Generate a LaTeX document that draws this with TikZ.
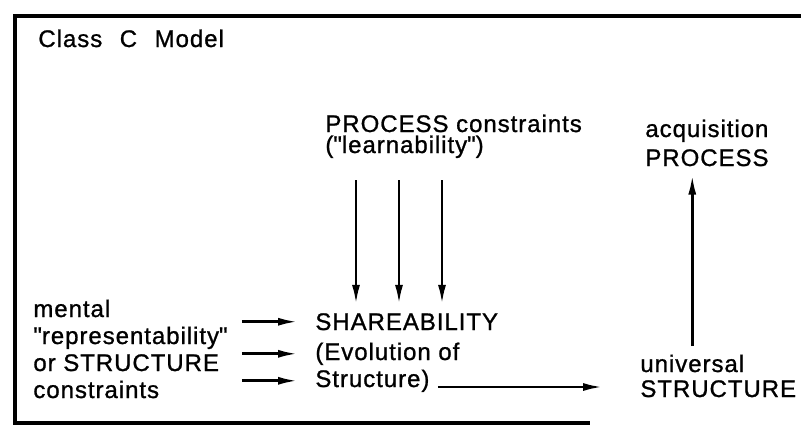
\documentclass[tikz,border=0pt]{standalone}
\usepackage{fontspec}
\setmainfont{Liberation Sans}[LetterSpace=4,FakeBold=1]
\newfontfamily\headfont{Liberation Sans}[LetterSpace=4,WordSpace=2.3,FakeBold=1]
\usetikzlibrary{arrows.meta,positioning}
\newcommand{\qq}{\textquotedbl}

\begin{document}
\begin{tikzpicture}[
    x=0.5pt, y=-0.5pt,
    txt/.style={anchor=base west, align=left, inner sep=4pt, font=\fontsize{12}{14}\selectfont},
    arr/.style={-{Latex[length=10pt,width=4pt]}, line width=1.4pt},
    frame/.style={line width=1.8pt},
]
    \useasboundingbox (0,0) rectangle (801,430);

    % open frame (runs off the right edge)
    \draw[frame] (801,16) -- (15,16) -- (15,423) -- (590,423);

    % Title
    \node[txt] (ttl) at (30,47) {\headfont Class C Model};

    % top: constraints on the process (base = last line)
    \node[txt, font=\fontsize{12}{10.5}\selectfont] (proc) at (317,153) {PROCESS constraints\\(\qq learnability\qq)};
    \node[txt, font=\fontsize{12}{14.5}\selectfont] (acq) at (637,166) {acquisition\\PROCESS};

    % left: structure constraints
    \node[txt, font=\fontsize{12}{13.5}\selectfont] (ment) at (25,398) {mental\\\qq representability\qq\\or STRUCTURE\\constraints};

    % middle
    \node[txt] (sh1) at (307,330) {SHAREABILITY};
    \node[txt] (sh2) at (307,360) {(Evolution of};
    \node[txt] (sh3) at (307,387) {Structure)};

    % right
    \node[txt] (uv1) at (632,372) {universal};
    \node[txt] (uv2) at (632,397) {STRUCTURE};

    % arrows
    \foreach \x in {356,399,442} {
        \draw[arr, shorten <=7pt] (\x,0 |- proc.south) -- (\x,0 |- sh1.north);
    }
    \foreach \s in {sh1,sh2,sh3} {
        \draw[arr, shorten <=3pt, shorten >=4.5pt] (ment.east |- \s.west) -- (\s.west);
    }
    \draw[arr, shorten >=14.5pt] (sh3.base east) -- (sh3.base east -| uv2.west);
    \draw[arr] (uv1.north) -- (uv1.north |- acq.south);

\end{tikzpicture}
\end{document}
